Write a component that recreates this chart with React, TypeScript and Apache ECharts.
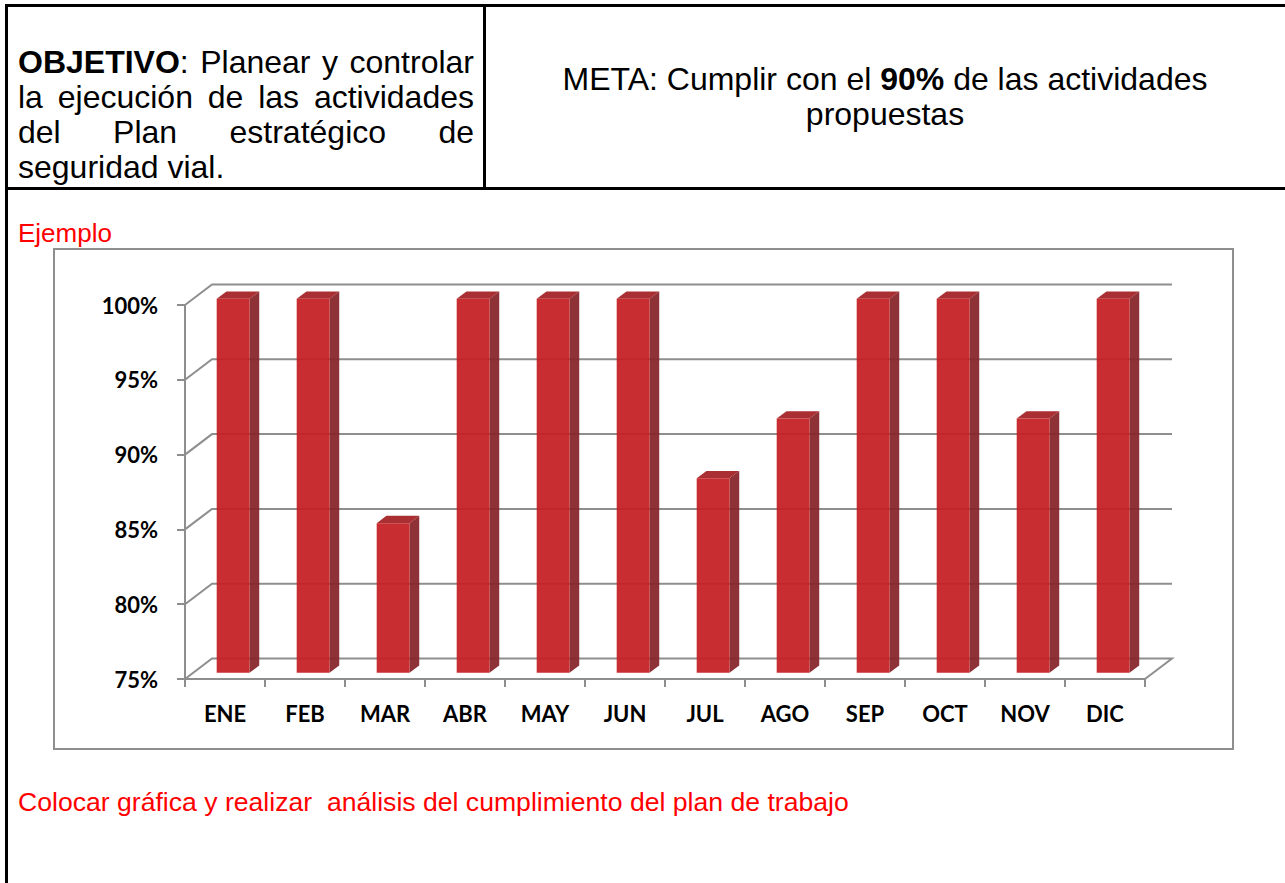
import React, { useEffect, useRef } from "react";
import * as echarts from "echarts";

// ---------- data ----------
const months = ["ENE", "FEB", "MAR", "ABR", "MAY", "JUN", "JUL", "AGO", "SEP", "OCT", "NOV", "DIC"];
const compliance = [100, 100, 85, 100, 100, 100, 88, 92, 100, 100, 92, 100];
const yTickValues = [75, 80, 85, 90, 95, 100];
const Y_MIN = 75;
const Y_MAX = 100;
const Y_STEP = 5;

const objetivoLines = [
  ["OBJETIVO:", "Planear", "y", "controlar"],
  ["la", "ejecución", "de", "las", "actividades"],
  ["del", "Plan", "estratégico", "de"],
  ["seguridad", "vial."],
];
const metaParts = ["META: Cumplir con el", "90%", "de las actividades"];
const metaLine2 = "propuestas";
const ejemploText = "Ejemplo";
const footerText = "Colocar gráfica y realizar  análisis del cumplimiento del plan de trabajo";

// ---------- style constants ----------
const SANS = '"Liberation Sans", Arial, sans-serif';
const LABEL_FONT = 'Lato, "Open Sans", sans-serif';
const GRAY = "#8e8e8e";
const DX = 27;
const DY = -20.5;
const F_FRONT = 0.3;
const F_BACK = 0.66;

function measure(text: string, size: number, weight: string): number {
  const c = document.createElement("canvas");
  const ctx = c.getContext("2d")!;
  ctx.font = `${weight} ${size}px ${SANS}`;
  return ctx.measureText(text).width;
}

function buildTableTexts(): any[] {
  const els: any[] = [];
  const size = 32;
  const x0 = 18;
  const x1 = 474;
  const lineY = [62, 97, 132, 167];
  const wordWidth = (w: string) => {
    if (w.startsWith("OBJETIVO")) {
      return measure("OBJETIVO", size, "bold") + measure(w.slice(8), size, "normal");
    }
    return measure(w, size, "normal");
  };
  const txt = (text: string, x: number, y: number, bold: boolean, fill = "#000", fs = size) => ({
    type: "text",
    x,
    y,
    style: {
      text,
      fill,
      fontSize: fs,
      fontFamily: SANS,
      fontWeight: bold ? "bold" : "normal",
      align: "left",
      verticalAlign: "middle",
      textAlign: "left",
      textVerticalAlign: "middle",
    },
  });
  objetivoLines.forEach((words, li) => {
    const widths = words.map(wordWidth);
    const total = widths.reduce((a, b) => a + b, 0);
    const last = li === objetivoLines.length - 1;
    const gap = last ? measure(" ", size, "normal") : (x1 - x0 - total) / (words.length - 1);
    let x = x0;
    words.forEach((w, i) => {
      if (w.startsWith("OBJETIVO")) {
        els.push(txt("OBJETIVO", x, lineY[li], true));
        els.push(txt(w.slice(8), x + measure("OBJETIVO", size, "bold"), lineY[li], false));
      } else {
        els.push(txt(w, x, lineY[li], false));
      }
      x += widths[i] + gap;
    });
  });
  // META (centered in right cell)
  const sp = measure(" ", size, "normal");
  const w0 = measure(metaParts[0], size, "normal");
  const w1 = measure(metaParts[1], size, "bold");
  const w2 = measure(metaParts[2], size, "normal");
  const totalMeta = w0 + sp + w1 + sp + w2;
  const cx = 885;
  let mx = cx - totalMeta / 2;
  els.push(txt(metaParts[0], mx, 79, false));
  mx += w0 + sp;
  els.push(txt(metaParts[1], mx, 79, true));
  mx += w1 + sp;
  els.push(txt(metaParts[2], mx, 79, false));
  const wl2 = measure(metaLine2, size, "normal");
  els.push(txt(metaLine2, cx - wl2 / 2, 114, false));
  // red notes
  els.push(txt(ejemploText, 18, 233, false, "#ff0000", 26));
  els.push(txt(footerText, 18, 802, false, "#ff0000", 26.6));
  return els;
}

export default function App() {
  const ref = useRef<HTMLDivElement>(null);

  useEffect(() => {
    if (!ref.current) return;
    const chart = echarts.init(ref.current, null, { renderer: "svg" });

    const borders = [
      { type: "rect", shape: { x: 5, y: 4, width: 1280, height: 3 }, style: { fill: "#000" } },
      { type: "rect", shape: { x: 5, y: 4, width: 3, height: 879 }, style: { fill: "#000" } },
      { type: "rect", shape: { x: 483, y: 4, width: 3, height: 185 }, style: { fill: "#000" } },
      { type: "rect", shape: { x: 5, y: 187, width: 1280, height: 3 }, style: { fill: "#000" } },
      {
        type: "rect",
        shape: { x: 54, y: 249, width: 1179, height: 500 },
        style: { fill: "none", stroke: GRAY, lineWidth: 2 },
      },
    ];

    const option: any = {
      animation: false,
      backgroundColor: "#ffffff",
      graphic: { elements: [...borders, ...buildTableTexts()] },
      grid: { left: 185, right: 140, top: 305, bottom: 204, containLabel: false },
      xAxis: {
        type: "category",
        data: months,
        boundaryGap: true,
        axisLine: { show: true, lineStyle: { color: GRAY, width: 2 } },
        axisTick: { show: true, length: 8, lineStyle: { color: GRAY, width: 2 } },
        axisLabel: {
          interval: 0,
          margin: 23,
          color: "#000",
          fontSize: 22,
          fontWeight: "bold",
          fontFamily: LABEL_FONT,
        },
        splitLine: { show: false },
      },
      yAxis: {
        type: "value",
        min: Y_MIN,
        max: Y_MAX,
        interval: Y_STEP,
        axisLine: { show: true, lineStyle: { color: GRAY, width: 2 } },
        axisTick: { show: true, length: 8, lineStyle: { color: GRAY, width: 2 } },
        axisLabel: {
          formatter: "{value}%",
          margin: 27,
          color: "#000",
          fontSize: 22,
          fontWeight: "bold",
          fontFamily: LABEL_FONT,
        },
        splitLine: { show: false },
      },
      series: [
        {
          type: "custom",
          name: "walls",
          clip: false,
          z: 1,
          silent: true,
          data: yTickValues.map((v) => [0, v]),
          renderItem: (params: any, api: any) => {
            const v = api.value(1);
            const slot = api.size([1, 0])[0];
            const p0 = api.coord([0, v]);
            const pN = api.coord([months.length - 1, v]);
            const xl = p0[0] - slot / 2;
            const xr = pN[0] + slot / 2;
            const y = p0[1];
            const pts: number[][] = [
              [xl, y],
              [xl + DX, y + DY],
              [xr + DX, y + DY],
            ];
            if (v === Y_MIN) pts.push([xr, y]);
            return {
              type: "polyline",
              shape: { points: pts },
              style: { stroke: GRAY, lineWidth: 2, fill: "none" },
            };
          },
        },
        {
          type: "custom",
          name: "Cumplimiento",
          clip: false,
          z: 3,
          data: compliance.map((v, i) => [i, v]),
          renderItem: (params: any, api: any) => {
            const i = api.value(0);
            const v = api.value(1);
            const top = api.coord([i, v]);
            const base = api.coord([i, Y_MIN]);
            const slot = api.size([1, 0])[0];
            const bw = slot * 0.41;
            const fx = top[0] - bw / 2 + DX * F_FRONT;
            const fy0 = top[1] + DY * F_FRONT;
            const fy1 = base[1] + DY * F_FRONT;
            const ddx = DX * (F_BACK - F_FRONT);
            const ddy = DY * (F_BACK - F_FRONT);
            return {
              type: "group",
              children: [
                {
                  type: "polygon",
                  shape: {
                    points: [
                      [fx + bw, fy0],
                      [fx + bw + ddx, fy0 + ddy],
                      [fx + bw + ddx, fy1 + ddy],
                      [fx + bw, fy1],
                    ],
                  },
                  style: { fill: "#88252a", opacity: 0.94 },
                },
                {
                  type: "polygon",
                  shape: {
                    points: [
                      [fx, fy0],
                      [fx + ddx, fy0 + ddy],
                      [fx + bw + ddx, fy0 + ddy],
                      [fx + bw, fy0],
                    ],
                  },
                  style: { fill: "#a52226", opacity: 0.94 },
                },
                {
                  type: "rect",
                  shape: { x: fx, y: fy0, width: bw, height: fy1 - fy0 },
                  style: { fill: "#c52024", opacity: 0.94 },
                },
              ],
            };
          },
        },
      ],
    };

    chart.setOption(option);
    return () => chart.dispose();
  }, []);

  return (
    <div
      ref={ref}
      style={{ position: "absolute", left: 0, top: 0, width: 1285, height: 883, background: "#fff" }}
    />
  );
}
